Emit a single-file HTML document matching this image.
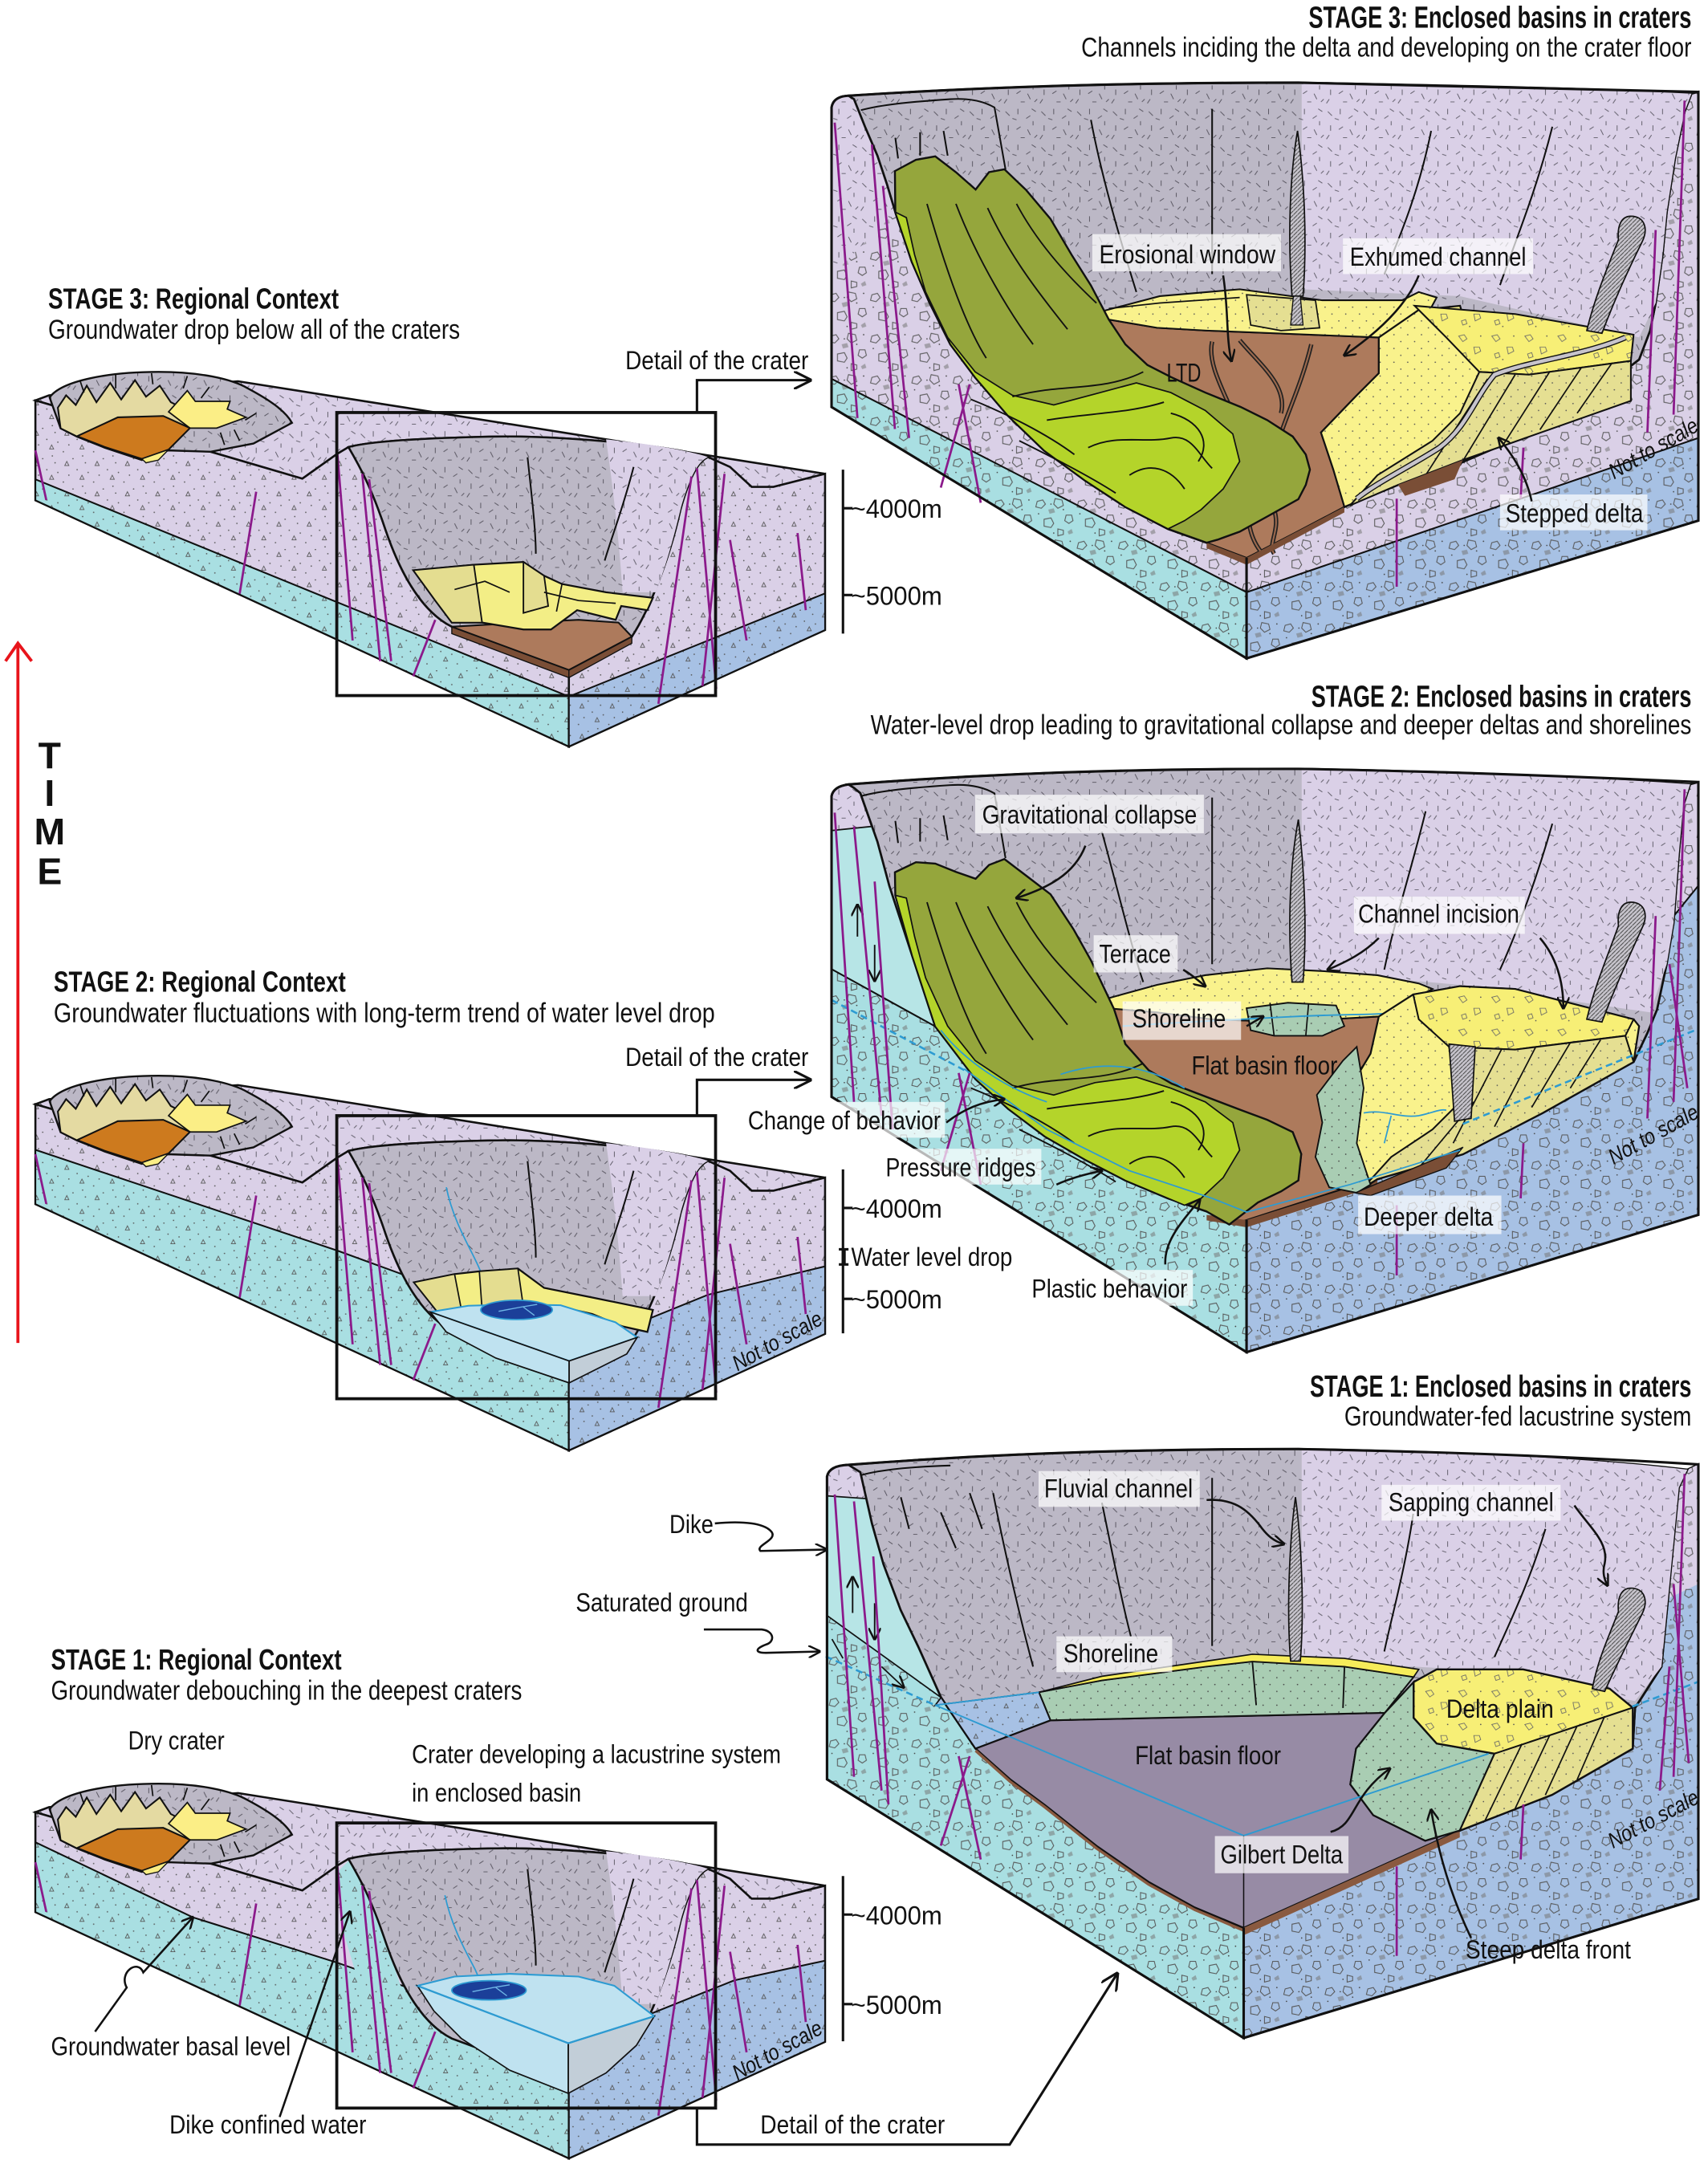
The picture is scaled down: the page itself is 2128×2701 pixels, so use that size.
<!DOCTYPE html>
<html><head><meta charset="utf-8"><title>Crater lacustrine stages</title>
<style>
html,body{margin:0;padding:0;background:#fff;width:2128px;height:2701px;overflow:hidden}
svg{display:block}
text{font-family:"Liberation Sans Narrow","Liberation Sans",sans-serif;fill:#111}
</style></head><body>
<svg xmlns="http://www.w3.org/2000/svg" width="2128" height="2701" viewBox="0 0 1240 1574" preserveAspectRatio="none">
<defs>
<pattern id="pLav" width="26" height="26" patternUnits="userSpaceOnUse"><rect width="26" height="26" fill="#dad0e7"/><path d="M2,3l3,3M11,1v4M17,8l3,-2M4,13v4M10,16l3,-2M18,16l2,4M21,1l3,2M13,22h3M1,23l2,-3M7,8l3,1M22,10v3M23,22l2,-2" stroke="#5d5a66" stroke-width="0.55"/></pattern>
<pattern id="pGray" width="26" height="26" patternUnits="userSpaceOnUse"><rect width="26" height="26" fill="#bcb8c6"/><path d="M2,3l3,3M11,1v4M17,8l3,-2M4,13v4M10,16l3,-2M18,16l2,4M21,1l3,2M13,22h3M1,23l2,-3M7,8l3,1M22,10v3M23,22l2,-2" stroke="#55525d" stroke-width="0.55"/></pattern>
<pattern id="pLavTri" width="22" height="22" patternUnits="userSpaceOnUse"><rect width="22" height="22" fill="#dad0e7"/><path d="M3,8h3l-1.5,-3z M14,18h3l-1.5,-3z" fill="none" stroke="#555" stroke-width="0.5"/><g fill="#555"><circle cx="9" cy="3" r="0.5"/><circle cx="18" cy="6" r="0.5"/><circle cx="6" cy="15" r="0.5"/><circle cx="12" cy="11" r="0.5"/><circle cx="20" cy="13" r="0.5"/><circle cx="2" cy="20" r="0.5"/><circle cx="16" cy="1" r="0.5"/></g></pattern>
<pattern id="pCyanTri" width="22" height="22" patternUnits="userSpaceOnUse"><rect width="22" height="22" fill="#a9dfe2"/><path d="M3,8h3l-1.5,-3z M14,18h3l-1.5,-3z" fill="none" stroke="#555" stroke-width="0.5"/><g fill="#555"><circle cx="9" cy="3" r="0.5"/><circle cx="18" cy="6" r="0.5"/><circle cx="6" cy="15" r="0.5"/><circle cx="12" cy="11" r="0.5"/><circle cx="20" cy="13" r="0.5"/><circle cx="2" cy="20" r="0.5"/><circle cx="16" cy="1" r="0.5"/></g></pattern>
<pattern id="pBlueTri" width="22" height="22" patternUnits="userSpaceOnUse"><rect width="22" height="22" fill="#a7c1e4"/><path d="M3,8h3l-1.5,-3z M14,18h3l-1.5,-3z" fill="none" stroke="#555" stroke-width="0.5"/><g fill="#555"><circle cx="9" cy="3" r="0.5"/><circle cx="18" cy="6" r="0.5"/><circle cx="6" cy="15" r="0.5"/><circle cx="12" cy="11" r="0.5"/><circle cx="20" cy="13" r="0.5"/><circle cx="2" cy="20" r="0.5"/><circle cx="16" cy="1" r="0.5"/></g></pattern>
<pattern id="pLavFrag" width="30" height="30" patternUnits="userSpaceOnUse"><rect width="30" height="30" fill="#dad0e7"/><path d="M3,4l4,-1l2,3l-3,3l-4,-1z M16,2l5,1l1,4l-4,2l-3,-3z M24,14l4,0l1,4l-3,2l-3,-2z M8,17l5,-1l2,4l-2,3l-5,-1z M18,24l4,1l0,3l-4,1z" fill="none" stroke="#555" stroke-width="0.6"/><path d="M11,10l4,-1l1,3l-4,1z M25,26l3,-2l1,3l-3,1z" fill="#777" opacity="0.55"/><g fill="#444"><circle cx="13" cy="6" r="0.5"/><circle cx="22" cy="10" r="0.5"/><circle cx="4" cy="13" r="0.5"/><circle cx="15" cy="27" r="0.5"/><circle cx="27" cy="3" r="0.5"/></g></pattern>
<pattern id="pCyanFrag" width="30" height="30" patternUnits="userSpaceOnUse"><rect width="30" height="30" fill="#a9dfe2"/><path d="M3,4l4,-1l2,3l-3,3l-4,-1z M16,2l5,1l1,4l-4,2l-3,-3z M24,14l4,0l1,4l-3,2l-3,-2z M8,17l5,-1l2,4l-2,3l-5,-1z M18,24l4,1l0,3l-4,1z" fill="none" stroke="#555" stroke-width="0.6"/><path d="M11,10l4,-1l1,3l-4,1z M25,26l3,-2l1,3l-3,1z" fill="#777" opacity="0.55"/><g fill="#444"><circle cx="13" cy="6" r="0.5"/><circle cx="22" cy="10" r="0.5"/><circle cx="4" cy="13" r="0.5"/><circle cx="15" cy="27" r="0.5"/><circle cx="27" cy="3" r="0.5"/></g></pattern>
<pattern id="pBlueFrag" width="30" height="30" patternUnits="userSpaceOnUse"><rect width="30" height="30" fill="#a7c1e4"/><path d="M3,4l4,-1l2,3l-3,3l-4,-1z M16,2l5,1l1,4l-4,2l-3,-3z M24,14l4,0l1,4l-3,2l-3,-2z M8,17l5,-1l2,4l-2,3l-5,-1z M18,24l4,1l0,3l-4,1z" fill="none" stroke="#555" stroke-width="0.6"/><path d="M11,10l4,-1l1,3l-4,1z M25,26l3,-2l1,3l-3,1z" fill="#777" opacity="0.55"/><g fill="#444"><circle cx="13" cy="6" r="0.5"/><circle cx="22" cy="10" r="0.5"/><circle cx="4" cy="13" r="0.5"/><circle cx="15" cy="27" r="0.5"/><circle cx="27" cy="3" r="0.5"/></g></pattern>
<pattern id="pYel" width="10" height="10" patternUnits="userSpaceOnUse"><rect width="10" height="10" fill="#f9f28c"/><circle cx="2" cy="3" r="0.5" fill="#555"/><circle cx="7" cy="8" r="0.5" fill="#555"/></pattern>
<pattern id="pKhaki" width="10" height="10" patternUnits="userSpaceOnUse"><rect width="10" height="10" fill="#e5df92"/><circle cx="2" cy="3" r="0.5" fill="#555"/><circle cx="7" cy="8" r="0.5" fill="#555"/></pattern>
<pattern id="pSage" width="10" height="10" patternUnits="userSpaceOnUse"><rect width="10" height="10" fill="#a9cdb3"/><circle cx="2" cy="3" r="0.5" fill="#444"/><circle cx="7" cy="8" r="0.5" fill="#444"/></pattern>
<pattern id="pYelFrag" width="24" height="24" patternUnits="userSpaceOnUse"><rect width="24" height="24" fill="#f7ef76"/><path d="M3,4l4,-1l2,3l-3,2z M14,12l4,0l1,3l-4,2z M5,17l3,-1l1,3l-3,1z" fill="none" stroke="#666" stroke-width="0.5"/><circle cx="19" cy="4" r="0.5" fill="#555"/><circle cx="11" cy="21" r="0.5" fill="#555"/></pattern>
<pattern id="pHatch" width="3" height="3" patternUnits="userSpaceOnUse"><rect width="3" height="3" fill="#c7c4cc"/><path d="M0,3L3,0" stroke="#444" stroke-width="0.55"/></pattern>
<marker id="a" viewBox="0 0 10 10" refX="9" refY="5" markerWidth="9" markerHeight="9" markerUnits="userSpaceOnUse" orient="auto-start-reverse"><path d="M0,0L10,5L0,10" fill="none" stroke="#111" stroke-width="1.6"/></marker>
<marker id="A" viewBox="0 0 10 10" refX="9" refY="5" markerWidth="13" markerHeight="13" markerUnits="userSpaceOnUse" orient="auto"><path d="M0,0L10,5L0,10" fill="none" stroke="#111" stroke-width="1.4"/></marker>
</defs>

<rect width="1240" height="1574" fill="#fff"/>

<!-- ============ TIME arrow ============ -->
<path d="M13,975 V468" stroke="#e8141b" stroke-width="2.2" fill="none"/>
<path d="M4,480 L13,467 L23,480" stroke="#e8141b" stroke-width="2.2" fill="none"/>
<g font-size="27" text-anchor="middle" font-weight="bold"><text x="36" y="558">T</text><text x="36" y="585">I</text><text x="36" y="613">M</text><text x="36" y="642">E</text></g>

<!-- ============ REGIONAL BLOCKS ============ -->
<!-- Stage 3 regional -->
<g>
<path d="M25.7,290.7 L35.6,287 L172.8,276.8 L599,344 L561.5,353.5 L545.7,353.5 L529.9,339 L514,331.8 C480,322 400,316 355,317 C310,318 270,320 253,324.6 L245,329.4 L219.5,347.5 Z" fill="url(#pLav)" stroke="#111" stroke-width="1.5"/>
<path d="M25.7,290.7 L219.5,347.5 L245,329.4 L253,324.6 C262,340 270,355 280,385 C292,420 308,445 328,455 L413,486.4 L413,542 L25.7,363.2 Z" fill="url(#pLavTri)" stroke="#111" stroke-width="1.5"/>
<path d="M25.7,348 L413,505.7 L413,542 L25.7,363.2 Z" fill="url(#pCyanTri)" stroke="#111" stroke-width="1.2"/>
<path d="M36,288.5 C45,276 80,270 115,270 C145,270 168,275 180,282 C195,290 207,298 212,307 L184,322 L153,328 L122,327 L103,334 L76,325 L56,317 L44,311 Z" fill="url(#pGray)" stroke="#111" stroke-width="1.4"/>
<path d="M42,296 L48,287 L55,294 L63,280 L70,292 L80,278 L88,290 L98,276 L106,288 L116,280 L124,292 L136,298 L137,311 L122,326 L103,333 L76,324 L56,317 L44,311 Z" fill="#e4daa2" stroke="#111" stroke-width="1.2"/>
<path d="M122.4,299 L136,283.6 L141.8,291.4 L167,291.4 L165,297 L178.7,303 L157.3,310.8 L137.9,310.8 Z" fill="#fbee86" stroke="#111" stroke-width="1"/>
<path d="M56,316.7 L85.5,303 L118.5,302 L137.9,310.8 L122.4,326.4 L103,333.2 L75.8,324.4 Z" fill="#cd7a1e" stroke="#111" stroke-width="1.2"/>
<path d="M103,333.2 L122.4,326.4 L115,334 L106,336 Z" fill="#fbee86" stroke="#111" stroke-width="0.8"/>
<path d="M58,276l3,9M84,272v10M110,271l1,8M136,273l-3,9M152,281l-6,8M186,300l-8,5M170,312l4,8M160,314l3,9" stroke="#111" stroke-width="1"/>
<path d="M413,486.4 L458.7,462.2 C470,445 485,410 494,370 C501,345 507,335 514,331.8 L529.9,339 L545.7,353.5 L561.5,353.5 L599,344 L599,457.4 L413,542 Z" fill="url(#pLavTri)" stroke="#111" stroke-width="1.5"/>
<path d="M413,505.7 L599,430.8 L599,457.4 L413,542 Z" fill="url(#pBlueTri)" stroke="#111" stroke-width="1.2"/>
<path d="M253,324.6 C270,320 310,318 355,317 C400,316 480,322 514,331.8 C507,335 501,345 494,370 C485,410 470,445 458.7,462.2 L413,486.4 L328,455 C308,445 292,420 280,385 C270,355 262,340 253,324.6 Z" fill="url(#pGray)" stroke="#111" stroke-width="1.5"/>
<path d="M440,319 C470,322 500,327 514,331.8 C507,335 501,345 494,370 C488,395 482,415 476,430 L452,430 C450,400 446,360 440,319 Z" fill="url(#pLav)"/>
<path d="M383,332 C386,360 389,385 389,402 M460,339 C452,370 444,390 439,407" stroke="#111" stroke-width="1.2" fill="none"/>
<path d="M328,455 L413,486.4 L413,492 L328,460 Z M413,486.4 L458.7,462.2 L458.7,467 L413,492 Z" fill="#7a4e36" stroke="#111" stroke-width="0.8"/>
<path d="M328,455 L413,486.4 L458.7,462.2 L449,452 L420,450 L380,452 Z" fill="#ad7a5c" stroke="#111" stroke-width="1.2"/>
<path d="M300,414 L344,410 L380,408 L395,418 L408,424 L440,430 L474,434 L470,443 L451,440 L447,450 L419,443 L400,457 L380,457 L350,452 L328,452 L316,436 Z" fill="#f3ee86" stroke="#111" stroke-width="1.3"/>
<path d="M300,414 L344,410 L350,452 L328,452 L316,436 Z M380,408 L395,418 L398,440 L380,445 Z" fill="#e4dd90" stroke="#111" stroke-width="1.1"/>
<path d="M330,428 L352,422 L370,430 M395,430 L420,436 L447,438 M408,424 L404,444" stroke="#111" stroke-width="1" fill="none"/>
<g stroke="#8b1a8b" stroke-width="1.6"><path d="M245,330L256,465M263,344L276,480M268,348L284,480M186,357L174,431M25.7,327L33.6,363M316,450L300,491M502,346L478,511M526,344L510,498M530,392L542,465M579,387L585,443M506,340L520,500"/></g>
</g>

<!-- Stage 2 regional -->
<g transform="translate(0,511)">
<path d="M25.7,290.7 L35.6,287 L172.8,276.8 L599,344 L561.5,353.5 L545.7,353.5 L529.9,339 L514,331.8 C480,322 400,316 355,317 C310,318 270,320 253,324.6 L245,329.4 L219.5,347.5 Z" fill="url(#pLav)" stroke="#111" stroke-width="1.5"/>
<path d="M25.7,290.7 L219.5,347.5 L245,329.4 L253,324.6 C262,340 270,355 280,385 C292,420 308,445 328,455 L413,486.4 L413,542 L25.7,363.2 Z" fill="url(#pLavTri)" stroke="#111" stroke-width="1.5"/>
<path d="M25.7,323.8 L245,397 L330,428 L413,460 L413,542 L25.7,363.2 Z" fill="url(#pCyanTri)" stroke="#111" stroke-width="1.2"/>
<path d="M36,288.5 C45,276 80,270 115,270 C145,270 168,275 180,282 C195,290 207,298 212,307 L184,322 L153,328 L122,327 L103,334 L76,325 L56,317 L44,311 Z" fill="url(#pGray)" stroke="#111" stroke-width="1.4"/>
<path d="M42,296 L48,287 L55,294 L63,280 L70,292 L80,278 L88,290 L98,276 L106,288 L116,280 L124,292 L136,298 L137,311 L122,326 L103,333 L76,324 L56,317 L44,311 Z" fill="#e4daa2" stroke="#111" stroke-width="1.2"/>
<path d="M122.4,299 L136,283.6 L141.8,291.4 L167,291.4 L165,297 L178.7,303 L157.3,310.8 L137.9,310.8 Z" fill="#fbee86" stroke="#111" stroke-width="1"/>
<path d="M56,316.7 L85.5,303 L118.5,302 L137.9,310.8 L122.4,326.4 L103,333.2 L75.8,324.4 Z" fill="#cd7a1e" stroke="#111" stroke-width="1.2"/>
<path d="M103,333.2 L122.4,326.4 L115,334 L106,336 Z" fill="#fbee86" stroke="#111" stroke-width="0.8"/>
<path d="M58,276l3,9M84,272v10M110,271l1,8M136,273l-3,9M152,281l-6,8M186,300l-8,5M170,312l4,8M160,314l3,9" stroke="#111" stroke-width="1"/>
<path d="M413,486.4 L458.7,462.2 C470,445 485,410 494,370 C501,345 507,335 514,331.8 L529.9,339 L545.7,353.5 L561.5,353.5 L599,344 L599,457.4 L413,542 Z" fill="url(#pLavTri)" stroke="#111" stroke-width="1.5"/>
<path d="M413,470 L514,429 L599,408.4 L599,457.4 L413,542 Z" fill="url(#pBlueTri)" stroke="#111" stroke-width="1.2"/>
<path d="M253,324.6 C270,320 310,318 355,317 C400,316 480,322 514,331.8 C507,335 501,345 494,370 C485,410 470,445 458.7,462.2 L413,486.4 L328,455 C308,445 292,420 280,385 C270,355 262,340 253,324.6 Z" fill="url(#pGray)" stroke="#111" stroke-width="1.5"/>
<path d="M440,319 C470,322 500,327 514,331.8 C507,335 501,345 494,370 C488,395 482,415 476,430 L452,430 C450,400 446,360 440,319 Z" fill="url(#pLav)"/>
<path d="M383,332 C386,360 389,385 389,402 M460,339 C452,370 444,390 439,407" stroke="#111" stroke-width="1.2" fill="none"/>
<path d="M324,351 C330,380 345,400 350,415 C355,425 360,432 364,437" stroke="#2d9bd2" stroke-width="1" fill="none"/>
<path d="M300.5,420 L330,414 L348,412 L376,410 L395,424 L430,431 L474,440 L470,456 L452,452 L430,443 L404,437 L395,443 L375,446 L350,440 L318,442 Z" fill="#f3ee86" stroke="#111" stroke-width="1.3"/>
<path d="M300.5,420 L330,414 L335,440 L318,442 Z M348,412 L376,410 L380,438 L350,440 Z" fill="#e4dd90" stroke="#111" stroke-width="1"/>
<path d="M312.4,441.5 L340,437 L375,436 L407,436.6 L446.8,449 L462.6,460 L413.2,477.1 Z" fill="#bfe2f0" stroke="#2d9bd2" stroke-width="1.2"/>
<path d="M312.4,441.5 L413.2,477.1 L413.2,493 L360,475 L324,456 Z" fill="#bfe2f0" stroke="#111" stroke-width="1"/>
<path d="M413.2,477.1 L462.6,460 L455,472 L413.2,493 Z" fill="#c2ced8" stroke="#111" stroke-width="1"/>
<ellipse cx="375" cy="440" rx="26" ry="7" fill="#1b3f99" stroke="#2d9bd2" stroke-width="1"/>
<path d="M362,441 L378,438 L390,436 M380,438 L388,444" stroke="#6fb6e6" stroke-width="0.8" fill="none"/>
<g stroke="#8b1a8b" stroke-width="1.6"><path d="M245,330L256,465M263,344L276,480M268,348L284,480M186,357L174,431M25.7,327L33.6,363M316,450L300,491M502,346L478,511M526,344L510,498M530,392L542,465M579,387L585,443M506,340L520,500"/></g>
</g>

<!-- Stage 1 regional -->
<g transform="translate(0,1025)">
<path d="M25.7,290.7 L35.6,287 L172.8,276.8 L599,344 L561.5,353.5 L545.7,353.5 L529.9,339 L514,331.8 C480,322 400,316 355,317 C310,318 270,320 253,324.6 L245,329.4 L219.5,347.5 Z" fill="url(#pLav)" stroke="#111" stroke-width="1.5"/>
<path d="M25.7,290.7 L219.5,347.5 L245,329.4 L253,324.6 C262,340 270,355 280,385 C292,420 308,445 328,455 L413,486.4 L413,542 L25.7,363.2 Z" fill="url(#pLavTri)" stroke="#111" stroke-width="1.5"/>
<path d="M25.7,312.5 L140,367 L245,400 L330,430 L413,460 L413,542 L25.7,363.2 Z" fill="url(#pCyanTri)" stroke="#111" stroke-width="1.2"/>
<path d="M246,333 L253,326 L262,340 L270,355 L280,385 L292,420 L308,445 L300,452 L262,420 L250,380 Z" fill="url(#pCyanTri)"/>
<path d="M36,288.5 C45,276 80,270 115,270 C145,270 168,275 180,282 C195,290 207,298 212,307 L184,322 L153,328 L122,327 L103,334 L76,325 L56,317 L44,311 Z" fill="url(#pGray)" stroke="#111" stroke-width="1.4"/>
<path d="M42,296 L48,287 L55,294 L63,280 L70,292 L80,278 L88,290 L98,276 L106,288 L116,280 L124,292 L136,298 L137,311 L122,326 L103,333 L76,324 L56,317 L44,311 Z" fill="#e4daa2" stroke="#111" stroke-width="1.2"/>
<path d="M122.4,299 L136,283.6 L141.8,291.4 L167,291.4 L165,297 L178.7,303 L157.3,310.8 L137.9,310.8 Z" fill="#fbee86" stroke="#111" stroke-width="1"/>
<path d="M56,316.7 L85.5,303 L118.5,302 L137.9,310.8 L122.4,326.4 L103,333.2 L75.8,324.4 Z" fill="#cd7a1e" stroke="#111" stroke-width="1.2"/>
<path d="M103,333.2 L122.4,326.4 L115,334 L106,336 Z" fill="#fbee86" stroke="#111" stroke-width="0.8"/>
<path d="M58,276l3,9M84,272v10M110,271l1,8M136,273l-3,9M152,281l-6,8M186,300l-8,5M170,312l4,8M160,314l3,9" stroke="#111" stroke-width="1"/>
<path d="M413,486.4 L458.7,462.2 C470,445 485,410 494,370 C501,345 507,335 514,331.8 L529.9,339 L545.7,353.5 L561.5,353.5 L599,344 L599,457.4 L413,542 Z" fill="url(#pLavTri)" stroke="#111" stroke-width="1.5"/>
<path d="M413,470 L470,438 L533,412.8 L599,398.5 L599,457.4 L413,542 Z" fill="url(#pBlueTri)" stroke="#111" stroke-width="1.2"/>
<path d="M253,324.6 C270,320 310,318 355,317 C400,316 480,322 514,331.8 C507,335 501,345 494,370 C485,410 470,445 458.7,462.2 L413,486.4 L328,455 C308,445 292,420 280,385 C270,355 262,340 253,324.6 Z" fill="url(#pGray)" stroke="#111" stroke-width="1.5"/>
<path d="M440,319 C470,322 500,327 514,331.8 C507,335 501,345 494,370 C488,395 482,415 476,430 L452,430 C450,400 446,360 440,319 Z" fill="url(#pLav)"/>
<path d="M383,332 C386,360 389,385 389,402 M460,339 C452,370 444,390 439,407" stroke="#111" stroke-width="1.2" fill="none"/>
<path d="M323,351 C328,375 340,395 345,405 C348,412 350,416 352,419" stroke="#2d9bd2" stroke-width="1" fill="none"/>
<path d="M303,416.7 L330,410 L370,408 L420,410 L446,416.7 L475,438.8 L412.6,458.4 Z" fill="#bfe2f0" stroke="#2d9bd2" stroke-width="1.2"/>
<path d="M303,416.7 L412.6,458.4 L412.6,494.8 L370,478 L335,455 L315,435 Z" fill="#bfe2f0" stroke="#111" stroke-width="1"/>
<path d="M412.6,458.4 L475,438.8 L462,460 L440,480 L412.6,494.8 Z" fill="#c2ced8" stroke="#111" stroke-width="1"/>
<path d="M303,416.7 L412.6,458.4 L475,438.8" stroke="#2d9bd2" stroke-width="1.3" fill="none"/>
<ellipse cx="355" cy="420" rx="27" ry="7" fill="#1b3f99" stroke="#2d9bd2" stroke-width="1"/>
<path d="M343,421 L358,418 L370,416 M360,418 L368,424" stroke="#6fb6e6" stroke-width="0.8" fill="none"/>
<g stroke="#8b1a8b" stroke-width="1.6"><path d="M245,330L256,465M263,344L276,480M268,348L284,480M186,357L174,431M25.7,327L33.6,363M316,450L300,491M502,346L478,511M526,344L510,498M530,392L542,465M579,387L585,443M506,340L520,500"/></g>
</g>

<!-- selection rects & connectors -->
<g fill="none" stroke="#111" stroke-width="2.2">
<rect x="244.5" y="299.5" width="275" height="205.5"/>
<rect x="244.5" y="810" width="275" height="205.5"/>
<rect x="244.5" y="1323.5" width="275" height="207"/>
<path d="M506,299.5 V276 H588" marker-end="url(#A)" stroke-width="1.8"/>
<path d="M506,810 V784 H588" marker-end="url(#A)" stroke-width="1.8"/>
<path d="M506,1530.5 V1557 H733 L811,1433" marker-end="url(#A)" stroke-width="1.8"/>
</g>

<!-- scale bars -->
<g stroke="#111" stroke-width="1.8" fill="none">
<path d="M612,341 V460 M612,369 H619 M612,432 H619"/>
<path d="M612,849 V968 M612,877 H619 M612,943 H619 M609,907 H616 M609,918 H616"/>
<path d="M612.5,907 V918" stroke-width="3"/>
<path d="M612,1362 V1482 M612,1390 H619 M612,1455 H619"/>
</g>

<!-- ============ DETAIL BLOCK STAGE 3 ============ -->
<g>
<path d="M603.7,295.5 L603.7,78 Q605,70 616,69.5 L620,72 L628,92 L637,113 L644,134 L650,154 L662,190 L675,220 L690,250 L708,274 L732,302 L758,327 L788,349 L817,368 L848,384 L876,394 L905,405 L905,478 Z" fill="url(#pLavFrag)" stroke="#111" stroke-width="1.6"/>
<path d="M603.7,78 Q605,70 616,69.5 L620,72 L628,92 L637,113 L644,134 L650,154 L603.7,200 Z" fill="url(#pLav)"/>
<path d="M603.7,275 L905,430 L905,478 L603.7,295.5 Z" fill="url(#pCyanFrag)" stroke="#111" stroke-width="1.2"/>
<path d="M905,405 L940,387 L976,368 L1015,352 L1056,338 L1100,319 L1150,292 L1190,261 L1198,240 L1202,220 L1207,185 L1210,154 L1216,115 L1223,81 L1228,68 L1233,66.7 L1233,378 L905,478 Z" fill="url(#pLavFrag)" stroke="#111" stroke-width="1.6"/>
<path d="M905,430 L1233,318 L1233,378 L905,478 Z" fill="url(#pBlueFrag)" stroke="#111" stroke-width="1.2"/>
<path d="M616,69.5 C700,64 800,60 942.6,60 C1050,62 1150,64 1228,68 L1223,81 L1216,115 L1210,154 L1207,185 L1202,220 L1198,240 L1190,261 L1150,292 L1100,319 L1056,338 L1015,352 L976,368 L940,387 L905,405 L876,394 L848,384 L817,368 L788,349 L758,327 L732,302 L708,274 L690,250 L675,220 L662,190 L650,154 L644,134 L637,113 L628,92 L620,72 Z" fill="url(#pGray)" stroke="#111" stroke-width="1.6"/>
<path d="M945,61 C1050,62 1150,64 1228,68 L1223,81 L1216,115 L1210,154 L1207,185 L1202,220 L1190,245 L1060,215 L945,210 Z" fill="url(#pLav)"/>
<path d="M792,87 C800,130 815,180 825,212 M880,79 V199 M1039,95 C1030,140 1015,175 1005,199 M1127,92 C1115,140 1100,175 1089,207 M650,100 l2,15 M668,96 v17 M685,95 l3,18" stroke="#111" stroke-width="1.2" fill="none"/>
<path d="M625,80 C640,76 660,74 690,72 C705,71 715,74 722,78 L730,123" stroke="#111" stroke-width="1.2" fill="none"/>
<path d="M805,232 L840,238 L876,240 L926,242 L1001,245 L1001,271 L985,287 L959,314 L968,341 L990,362 L976,368 L940,387 L905,405 L876,394 L884,391.8 L900,386 L920,375 L942.6,362.4 L948,352 L951,341 L948,330 L938.5,316.9 L920,305 L900.8,295.5 L875,285 L850.6,274 L833,265 L817,250 Z" fill="#ad7a5c" stroke="#111" stroke-width="1.2"/>
<path d="M880,248 C875,270 900,300 905,330 C910,360 900,380 915,400 M900,247 C915,265 935,280 930,300 M952,250 C940,300 915,330 925,370 C930,385 920,395 925,402" stroke="#222" stroke-width="3.2" fill="none"/>
<path d="M880,248 C875,270 900,300 905,330 C910,360 900,380 915,400 M900,247 C915,265 935,280 930,300 M952,250 C940,300 915,330 925,370 C930,385 920,395 925,402" stroke="#9d6a4e" stroke-width="1.2" fill="none"/>
<path d="M876,394 L905,405 L976,368 L976,372 L905,410 L876,398 Z" fill="#7a4e36"/>
<path d="M800,226 L842,215 L900,210 L960,218 L1018,218 L1030,212 L1043,216 L1030,240 L1001,245 L926,242 L876,240 L840,238 L805,232 Z" fill="url(#pYel)" stroke="#111" stroke-width="1.2"/>
<path d="M905,214 L955,218 L958,238 L930,240 L908,236 Z" fill="url(#pKhaki)" stroke="#111" stroke-width="1"/>
<path d="M805,224 L842,220 L900,216" stroke="#111" stroke-width="1" fill="none"/>
<path d="M1001,245 L1030,225 L1060,222 L1074,270 L1062,334 L1015,352 L976,368 L968,341 L959,314 L985,287 L1001,271 Z" fill="url(#pYel)" stroke="#111" stroke-width="1.3"/>
<path d="M1027,222 L1100,228 L1186,243 L1184,262 L1110,272 L1074,270 L1050,245 Z" fill="url(#pYelFrag)" stroke="#111" stroke-width="1.2"/>
<path d="M1074,270 L1110,272 L1184,262 L1184,291 L1062,334 L1015,352 L980,367 L1000,345 L1040,320 L1060,300 Z" fill="url(#pKhaki)" stroke="#111" stroke-width="1.2"/>
<path d="M1100,272 L1060,338 M1125,270 L1090,325 M1148,267 L1118,312 M1170,264 L1145,300 M1080,275 L1035,345" stroke="#111" stroke-width="1" fill="none"/>
<path d="M1180,245 C1150,258 1110,262 1085,272 C1070,290 1065,310 1045,325 C1025,338 1000,350 985,362" stroke="#111" stroke-width="4.2" fill="none"/>
<path d="M1180,245 C1150,258 1110,262 1085,272 C1070,290 1065,310 1045,325 C1025,338 1000,350 985,362" stroke="#c7c4cc" stroke-width="2.6" fill="none"/>
<path d="M1015,352 L1062,334 L1056,348 L1020,360 Z" fill="#7a4e36"/>
<path d="M649.7,124.2 L665,116 L679,113.5 L694,125 L708.3,137.6 L718,125 L729.2,122.9 L745,138 L762.7,159 L778,185 L792,207.2 L805,232 L817,250 L833,265 L850.6,274 L875,285 L900.8,295.5 L920,305 L938.5,316.9 L948,330 L951,341 L948,352 L942.6,362.4 L920,375 L900,386 L884,391.8 L876,394 L848,384 L817,368 L788,349 L758,327 L732,302 L708,274 L690,250 L675,220 L662,190 L650,154 Z" fill="#95a63c" stroke="#111" stroke-width="1.4"/>
<path d="M650,154 L658,158 L664,185 L672,212 L688,245 L708,270 L735,287 L765,294 L795,286 L825,278 L850,285 L875,298 L895,315 L900,335 L888,355 L872,370 L860,378 L848,384 L817,368 L788,349 L758,327 L732,302 L708,274 L690,250 L675,220 L662,190 Z" fill="#b4d42a" stroke="#111" stroke-width="1"/>
<path d="M673,148 C685,190 700,235 716,260 M694,148 C710,190 735,230 750,250 M717,151 C735,190 760,220 775,239 M738,148 C755,180 780,205 796,220 M735,288 C770,278 800,285 830,270 M760,305 C790,300 820,300 845,292 M790,325 C810,315 830,322 850,318 C865,315 870,330 880,340 M820,345 C835,335 850,340 860,355 M850,300 C870,305 880,320 870,335 M705,290 C730,300 760,315 780,330 M740,320 C760,330 790,345 810,358" stroke="#111" stroke-width="1.1" fill="none"/>
<path d="M942,95 C947,130 949,175 946,215 L938,215 C935,175 936,130 942,95 Z" fill="url(#pHatch)" stroke="#111" stroke-width="1"/>
<path d="M939,215 L944,215 L946,236 L937,236 Z" fill="url(#pHatch)" stroke="#111" stroke-width="0.8"/>
<path d="M1184,157 C1194,157 1197,166 1192,176 C1182,196 1172,218 1163,242 L1152,240 C1158,215 1168,192 1175,174 C1174,164 1177,157 1184,157 Z" fill="url(#pHatch)" stroke="#111" stroke-width="1"/>
<g stroke="#8b1a8b" stroke-width="1.6"><path d="M606,89L622.5,303.5M633,105L649.7,311.5M641,135L660,318M704,279L683,354M696,279L712,365M1014,362L1014,426M1106,325L1104,362M1202,167L1196,314M1223,73L1215,301"/></g>
<path d="M603.7,295.5 L603.7,78 Q605,70 616,69.5 C700,64 800,60 942.6,60 C1050,62 1150,64 1233,66.7 L1233,378 L905,478 Z M905,405 V478" fill="none" stroke="#111" stroke-width="1.8"/>
</g>

<!-- ============ DETAIL BLOCK STAGE 2 ============ -->
<g>
<path d="M603.7,796.3 L603.7,578 Q605,571 616,569.5 L620,572 L624.6,575.8 L637,611 L645.6,643 L662.3,694 L679,745.2 L708.3,783.5 L732,805 L758.5,825 L788,842 L817,857 L848,870 L875.7,879.4 L905,885.8 L905,981.7 Z" fill="url(#pLav)" stroke="#111" stroke-width="1.6"/>
<path d="M603.7,603 L633,600 L637,611 L645.6,643 L662.3,694 L679,745.2 L603.7,703.6 Z" fill="#b7e5e6" stroke="#111" stroke-width="1"/>
<path d="M603.7,703.6 L679,745.2 L708.3,783.5 L732,805 L758.5,825 L788,842 L817,857 L848,870 L875.7,879.4 L905,885.8 L905,981.7 L603.7,796.3 Z" fill="url(#pCyanFrag)" stroke="#111" stroke-width="1.2"/>
<path d="M905,885.8 L960,868 L1000,856 L1062,838 L1120,808 L1186,771 L1196,750 L1203,733 L1210,700 L1215,670 L1218.8,620 L1222,585 L1227,569.4 L1233,567.8 L1233,882 L905,981.7 Z" fill="url(#pLavFrag)" stroke="#111" stroke-width="1.6"/>
<path d="M905,885.8 L1195,690 L1233,643 L1233,882 L905,981.7 Z" fill="url(#pBlueFrag)" stroke="#111" stroke-width="1.2"/>
<path d="M616,569.5 C700,563 800,558 942.6,558.2 C1050,560 1150,564 1227,569.4 L1222,585 L1218.8,620 L1215,670 L1210,700 L1203,733 L1196,750 L1186,771 L1120,808 L1062,838 L1000,856 L960,868 L905,885.8 L875.7,879.4 L848,870 L817,857 L788,842 L758.5,825 L732,805 L708.3,783.5 L679,745.2 L662.3,694 L645.6,643 L637,611 L624.6,575.8 L620,572 Z" fill="url(#pGray)" stroke="#111" stroke-width="1.6"/>
<path d="M945,559 C1050,560 1150,564 1227,569.4 L1222,585 L1218.8,620 L1215,670 L1210,700 L1198,735 L1060,715 L945,705 Z" fill="url(#pLav)"/>
<path d="M800,604 C810,640 822,690 830,713 M880,579 V700 M1035,589 C1025,630 1012,670 1005,704 M1127,598 C1115,640 1100,680 1089,704 M650,596 l2,16 M668,594 v17 M685,592 l3,18" stroke="#111" stroke-width="1.2" fill="none"/>
<path d="M625,578 C640,574 660,572 690,570 C705,569 715,572 722,576 L730,623" stroke="#111" stroke-width="1.2" fill="none"/>
<path d="M808.7,732.4 L840,735 L880,740 L930,742 L965,740 L1001,738 L1000,760 L985,780 L970,800 L962,820 L965,850 L985,860 L960,868 L905,885.8 L892.4,889 L913.3,873 L942.6,857 L944.7,837.8 L938.5,821.9 L900.8,805.9 L850.6,786.7 L833.9,777 L817,758 Z" fill="#ad7a5c" stroke="#111" stroke-width="1.2"/>
<path d="M876,882 L905,885.8 L1000,856 L1000,861 L905,891 L876,886 Z" fill="#7a4e36"/>
<path d="M800,726 L840,715 L875,708 L920,703 L960,705 L1000,708 L1030,714 L1040,718 L1001,738 L965,740 L930,742 L880,740 L840,735 L808.7,732.4 Z" fill="url(#pYel)" stroke="#111" stroke-width="1.2"/>
<path d="M905,732 L935,728 L970,730 L976,745 L960,752 L925,752 L908,748 Z" fill="url(#pSage)" stroke="#111" stroke-width="1.1"/>
<path d="M922,728 L925,752 M950,729 L948,752" stroke="#111" stroke-width="1"/>
<path d="M815,745 C860,742 900,740 940,738 C980,736 1000,737 1018,735" stroke="#2d9bd2" stroke-width="1.1" fill="none"/>
<!-- delta D2 -->
<path d="M1001,738 L1026,722 L1060,716 L1100,718 L1186,740 L1190,745 L1186,771 L1120,808 L1062,838 L1000,856 L985,866 L975,850 L970,820 L980,790 L995,765 Z" fill="url(#pYel)" stroke="#111" stroke-width="1.3"/>
<path d="M1026,722 L1060,716 L1100,718 L1186,740 L1180,752 L1100,762 L1052,760 L1030,740 Z" fill="url(#pYelFrag)" stroke="#111" stroke-width="1.2"/>
<path d="M1052,760 L1100,762 L1180,752 L1186,771 L1120,808 L1062,838 L1000,856 L990,862 L1010,840 L1040,820 L1060,800 L1055,780 Z" fill="url(#pKhaki)" stroke="#111" stroke-width="1.2"/>
<path d="M1090,762 L1055,830 M1115,760 L1085,818 M1140,757 L1112,804 M1162,755 L1140,790 M1070,800 L1030,848" stroke="#111" stroke-width="1" fill="none"/>
<path d="M1052,758 L1071,760 L1068,812 L1056,814 Z" fill="url(#pHatch)" stroke="#111" stroke-width="1"/>
<path d="M1062,816 L1233,747" stroke="#2d9bd2" stroke-width="1.5" stroke-dasharray="5 3" fill="none"/>
<path d="M956,795 L975,770 L985,760 L990,790 L985,830 L995,860 L985,866 L965,862 L955,840 L960,815 Z" fill="url(#pSage)" stroke="#111" stroke-width="1.1"/>
<path d="M984,866 L1062,833 L1050,848 L995,868 Z" fill="#7a4e36" stroke="#111" stroke-width="0.8"/>
<path d="M990,808 C1005,805 1015,812 1030,810 C1040,808 1045,805 1050,806 M1010,810 L1005,830" stroke="#2d9bd2" stroke-width="1" fill="none"/>
<!-- green D2 -->
<path d="M649.7,633.3 L665,626 L679,627 L694,633 L708.3,638 L718,628 L729.2,623.7 L746,636.5 L762.7,649.3 L779.5,674.9 L792,697.2 L808.7,732.4 L817,758 L833.9,777 L850.6,786.7 L875,796 L900.8,805.9 L920,813 L938.5,821.9 L944.7,837.8 L942.6,857 L930,865 L913.3,873 L892.4,889 L875.7,879.4 L848,870 L817,857 L788,842 L758.5,825 L732,805 L708.3,783.5 L679,745.2 L662.3,694 L650,650 Z" fill="#95a63c" stroke="#111" stroke-width="1.4"/>
<path d="M650,650 L658,652 L664,680 L672,710 L688,745 L708,770 L735,788 L765,795 L795,786 L825,782 L850,790 L875,800 L895,815 L900,835 L888,855 L872,870 L860,875 L848,870 L817,857 L788,842 L758.5,825 L732,805 L708.3,783.5 L679,745.2 L662.3,694 Z" fill="#b4d42a" stroke="#111" stroke-width="1"/>
<path d="M673,655 C685,695 700,740 716,765 M694,655 C710,695 735,735 750,755 M717,658 C735,695 760,725 775,744 M738,655 C755,690 780,712 796,728 M735,790 C770,780 800,787 830,772 M760,805 C790,800 820,800 845,792 M790,825 C810,815 830,822 850,818 C865,815 870,830 880,840 M820,845 C835,835 850,840 860,855 M850,800 C870,805 880,820 870,835 M705,790 C730,800 760,815 780,830 M740,820 C760,830 790,845 810,858" stroke="#111" stroke-width="1.1" fill="none"/>
<path d="M683,748 C700,770 730,790 760,800 M770,780 C800,770 830,772 860,790" stroke="#2d9bd2" stroke-width="1" fill="none"/>
<path d="M700,776 L760,820 L820,850 L880,870 L905,880 L980,860 L1060,835" stroke="#2d9bd2" stroke-width="1" fill="none"/>
<path d="M942.6,595 C947,630 949,675 946,713 L938,713 C935,675 936,630 942.6,595 Z" fill="url(#pHatch)" stroke="#111" stroke-width="1"/>
<path d="M1184,655 C1194,655 1197,664 1192,674 C1182,696 1172,718 1163,742 L1152,740 C1158,715 1168,692 1175,672 C1174,662 1177,655 1184,655 Z" fill="url(#pHatch)" stroke="#111" stroke-width="1"/>
<path d="M603.7,726 L704,779" stroke="#2d9bd2" stroke-width="1.5" stroke-dasharray="5 3" fill="none"/>
<path d="M622.5,657 V680 M635,686 V712" stroke="#111" stroke-width="1.1" marker-start="url(#a)" marker-end="url(#a)"/>
<g stroke="#8b1a8b" stroke-width="1.6"><path d="M606,590L620,800M620,600L640,810M635,640L648,820M704,779L683,850M696,779L712,860M1014,875L1014,926M1106,830L1104,870M1202,665L1196,812M1223,573L1215,800M1212,700L1225,790"/></g>
<path d="M603.7,796.3 L603.7,578 Q605,571 616,569.5 C700,563 800,558 942.6,558.2 C1050,560 1150,564 1233,567.8 L1233,882 L905,981.7 Z M905,885.8 V981.7" fill="none" stroke="#111" stroke-width="1.8"/>
</g>

<!-- ============ DETAIL BLOCK STAGE 1 ============ -->
<g>
<path d="M600.4,1291.8 L600.4,1072 Q602,1064 616,1063.5 L620,1066 L624.6,1068.8 L633,1106 L641.4,1135.7 L653.9,1169 L666.5,1195.2 L683.2,1232.4 L708.3,1269.5 L733.4,1291.8 L758.5,1310.4 L796.2,1340.2 L833.8,1366.2 L867.3,1384.8 L902.9,1399.6 L902.9,1479.6 Z" fill="url(#pCyanFrag)" stroke="#111" stroke-width="1.6"/>
<path d="M600.4,1072 Q602,1064 616,1063.5 L620,1066 L624.6,1068.8 L629,1088 L600.4,1086 Z" fill="url(#pLav)"/>
<path d="M600.4,1086 L629,1088 L633,1106 L641.4,1135.7 L653.9,1169 L666.5,1195.2 L683.2,1232.4 L600.4,1172.9 Z" fill="#b7e5e6" stroke="#111" stroke-width="1"/>
<path d="M902.9,1399.6 L980,1365 L1059.8,1329 L1126.7,1303 L1185.3,1269.5 L1187,1240 L1206.2,1210 L1212,1150 L1218.8,1080 L1225,1067 L1233,1063.2 L1233,1378.6 L902.9,1479.6 Z" fill="url(#pBlueFrag)" stroke="#111" stroke-width="1.6"/>
<path d="M1218.8,1080 L1225,1067 L1233,1063.2 L1233,1150 L1212,1160 Z" fill="url(#pLavFrag)"/>
<path d="M616,1063.5 C700,1057 800,1052 942.6,1052 C1050,1054 1150,1058 1225,1067 L1218.8,1080 L1212,1150 L1206.2,1210 L1187,1240 L1185.3,1269.5 L1126.7,1303 L1059.8,1329 L980,1365 L902.9,1399.6 L867.3,1384.8 L833.8,1366.2 L796.2,1340.2 L758.5,1310.4 L733.4,1291.8 L708.3,1269.5 L683.2,1232.4 L666.5,1195.2 L653.9,1169 L641.4,1135.7 L633,1106 L624.6,1068.8 L620,1066 Z" fill="url(#pGray)" stroke="#111" stroke-width="1.6"/>
<path d="M945,1053 C1050,1054 1150,1058 1225,1067 L1218.8,1080 L1212,1150 L1206.2,1210 L1187,1235 L1060,1212 L945,1205 Z" fill="url(#pLav)"/>
<path d="M800,1091 C808,1130 815,1165 821,1188 M880,1073 V1195 M721,1084 C730,1130 742,1180 750,1210 M1026,1099 C1020,1140 1010,1175 1005,1199 M1122,1110 C1110,1150 1095,1180 1085,1203 M654,1087 l6,23 M683,1098 l11,26 M704,1084 l9,26" stroke="#111" stroke-width="1.2" fill="none"/>
<path d="M625,1071 C640,1067 660,1065 690,1064" stroke="#111" stroke-width="1.2" fill="none"/>
<path d="M679,1238 L754.3,1228.6 L762.7,1249 L708.3,1269.5 L683.2,1232.4 Z" fill="url(#pBlueTri)" stroke="#111" stroke-width="1"/>
<path d="M708.3,1269.5 L762.7,1249 L1005.4,1243.5 L984.5,1269.5 L980.3,1295.5 L997,1317.9 L1034.7,1336.4 L1059.8,1329 L902.9,1399.6 L867.3,1384.8 L833.8,1366.2 L796.2,1340.2 L758.5,1310.4 L733.4,1291.8 Z" fill="#978ba5" stroke="#111" stroke-width="1.3"/>
<path d="M902.9,1399.6 L1059.8,1329 L1059.8,1334 L902.9,1405 Z" fill="#8a5a40"/>
<path d="M708.3,1271 L733.4,1293.5 L758.5,1312 L796.2,1342 L833.8,1368 L867.3,1386.5 L902.9,1401.5" stroke="#8a5a40" stroke-width="2" fill="none"/>
<path d="M754.3,1228.6 L800,1220 L875.7,1210 L909.2,1206.3 L940,1208 L976.1,1210 L1026.3,1217.5 L1005.4,1243.5 L762.7,1249 Z" fill="url(#pSage)" stroke="#111" stroke-width="1.2"/>
<path d="M754.3,1228.6 L800,1217 L875.7,1206 L909.2,1201 L976,1204 L1030,1212 L1026.3,1217.5 L976.1,1210 L940,1208 L909.2,1206.3 L875.7,1210 L800,1220 Z" fill="#f6ec5a" stroke="#111" stroke-width="1"/>
<path d="M909.2,1206.3 L912,1238 M976.1,1210 L975,1240" stroke="#111" stroke-width="1.1"/>
<path d="M1026.3,1221.2 L1026.3,1247.2 L1043,1265.8 L1085,1273.2 L1059.8,1329 L1034.7,1336.4 L997,1317.9 L980.3,1295.5 L984.5,1269.5 L1005.4,1243.5 Z" fill="url(#pSage)" stroke="#111" stroke-width="1.3"/>
<path d="M1026.3,1221.2 L1043,1212 L1105.8,1212 L1168.6,1226 L1185.3,1239.8 L1160,1254.7 L1126.7,1262 L1085,1273.2 L1043,1265.8 L1026.3,1247.2 Z" fill="url(#pYelFrag)" stroke="#111" stroke-width="1.4"/>
<path d="M1085,1273.2 L1185.3,1239.8 L1185.3,1269.5 L1126.7,1303 L1059.8,1329 Z" fill="url(#pKhaki)" stroke="#111" stroke-width="1.2"/>
<path d="M1105,1266 L1078,1322 M1125,1260 L1100,1313 M1145,1253 L1122,1303 M1165,1246 L1145,1292" stroke="#111" stroke-width="1" fill="none"/>
<path d="M679,1238 L902.9,1332.7 L1080.7,1273.2 M679,1238 L754.3,1228.6" stroke="#2d9bd2" stroke-width="1.1" fill="none"/>
<path d="M902.9,1332.7 V1399.6" stroke="#111" stroke-width="0.9"/>
<path d="M599.5,1202.6 L679,1238 M1185,1239 L1233,1221" stroke="#2d9bd2" stroke-width="1.5" stroke-dasharray="5 3" fill="none"/>
<path d="M940.5,1087 C945,1120 947,1170 944,1206 L937,1206 C934,1170 936,1120 940.5,1087 Z" fill="url(#pHatch)" stroke="#111" stroke-width="1"/>
<path d="M1184,1153 C1194,1153 1197,1162 1192,1172 C1182,1192 1172,1212 1165,1228 L1156,1226 C1160,1205 1168,1188 1175,1170 C1174,1160 1177,1153 1184,1153 Z" fill="url(#pHatch)" stroke="#111" stroke-width="1"/>
<path d="M619,1145 V1171 M635,1164 V1190" stroke="#111" stroke-width="1.1" marker-start="url(#a)" marker-end="url(#a)"/>
<path d="M604,1190 L612,1204 M640,1210 L656,1225" stroke="#111" stroke-width="1" marker-end="url(#a)"/>
<g stroke="#8b1a8b" stroke-width="1.6"><path d="M606,1085L620,1290M620,1090L640,1300M634,1130L645,1310M704,1275L683,1340M696,1275L712,1350M1014,1355L1014,1420M1106,1310L1104,1350M1212,1210L1205,1300M1223,1070L1215,1290M1215,1150L1226,1280"/></g>
<path d="M600.4,1291.8 L600.4,1072 Q602,1064 616,1063.5 C700,1057 800,1052 942.6,1052 C1050,1054 1150,1058 1233,1063.2 L1233,1378.6 L902.9,1479.6 Z M902.9,1399.6 V1479.6" fill="none" stroke="#111" stroke-width="1.8"/>
</g>

<!-- ============ LABEL BOXES ============ -->
<g fill="#fff" fill-opacity="0.7">
<rect x="793" y="170" width="137" height="27"/>
<rect x="975" y="173" width="138" height="26"/>
<rect x="1089" y="359" width="107" height="26"/>
<rect x="708" y="577" width="166" height="28"/>
<rect x="794" y="679" width="61" height="27"/>
<rect x="983" y="651" width="124" height="27"/>
<rect x="815" y="727" width="86" height="28"/>
<rect x="540" y="800" width="146" height="26"/>
<rect x="640" y="834" width="116" height="26"/>
<rect x="745" y="922" width="121" height="26"/>
<rect x="986" y="868" width="104" height="28"/>
<rect x="754" y="1068" width="117" height="26"/>
<rect x="1003" y="1078" width="130" height="26"/>
<rect x="767" y="1188" width="84" height="26"/>
<rect x="882" y="1333" width="97" height="27"/>
</g>

<!-- ============ LABEL ARROWS ============ -->
<g fill="none" stroke="#111" stroke-width="1.5" marker-end="url(#a)">
<path d="M888,200 C892,225 890,245 894,262"/>
<path d="M1030,200 C1020,225 995,245 976,258"/>
<path d="M1112,364 C1108,345 1098,330 1088,318"/>
<path d="M788,614 C780,635 760,645 738,652"/>
<path d="M859,704 C866,708 870,712 875,716"/>
<path d="M1001,681 C990,692 978,698 964,704"/>
<path d="M1118,681 C1130,695 1135,712 1135,732"/>
<path d="M905,745 L917,738"/>
<path d="M687,815 C700,805 712,800 729,798"/>
<path d="M767,860 C778,855 790,852 800,850"/>
<path d="M846,918 C845,900 860,885 871,871"/>
<path d="M876,1089 C895,1088 905,1095 915,1108 C920,1115 925,1119 932,1121"/>
<path d="M1143,1093 C1155,1110 1168,1120 1165,1135 C1163,1142 1165,1147 1167,1151"/>
<path d="M966,1330 C985,1325 980,1305 1009,1284"/>
<path d="M1068,1407 C1055,1380 1045,1350 1039,1314"/>
<path d="M519,1106 C540,1104 555,1106 560,1112 C565,1118 548,1122 552,1126 L600,1125"/>
<path d="M511,1183 L553,1183 C562,1184 563,1192 556,1194 C548,1197 548,1200 556,1200 L595,1199"/>
<path d="M69,1475 L92,1443 C86,1432 100,1422 104,1432 L140,1392"/>
<path d="M203,1537 L254,1388"/>
</g>

<!-- ============ TEXT ============ -->
<g font-weight="bold" font-size="22">
<text x="950" y="20" textLength="278" lengthAdjust="spacingAndGlyphs">STAGE 3: Enclosed basins in craters</text>
<text x="952" y="513" textLength="276" lengthAdjust="spacingAndGlyphs">STAGE 2: Enclosed basins in craters</text>
<text x="951" y="1014" textLength="277" lengthAdjust="spacingAndGlyphs">STAGE 1: Enclosed basins in craters</text>
</g>
<g font-weight="bold" font-size="21">
<text x="35" y="224" textLength="211" lengthAdjust="spacingAndGlyphs">STAGE 3: Regional Context</text>
<text x="39" y="720" textLength="212" lengthAdjust="spacingAndGlyphs">STAGE 2: Regional Context</text>
<text x="37" y="1212" textLength="211" lengthAdjust="spacingAndGlyphs">STAGE 1: Regional Context</text>
</g>
<g font-size="20">
<text x="785" y="41" textLength="443" lengthAdjust="spacingAndGlyphs">Channels inciding the delta and developing on the crater floor</text>
<text x="35" y="246" textLength="299" lengthAdjust="spacingAndGlyphs">Groundwater drop below all of the craters</text>
<text x="632" y="533" textLength="596" lengthAdjust="spacingAndGlyphs">Water-level drop leading to gravitational collapse and deeper deltas and shorelines</text>
<text x="39" y="742" textLength="480" lengthAdjust="spacingAndGlyphs">Groundwater fluctuations with long-term trend of water level drop</text>
<text x="976" y="1035" textLength="252" lengthAdjust="spacingAndGlyphs">Groundwater-fed lacustrine system</text>
<text x="37" y="1234" textLength="342" lengthAdjust="spacingAndGlyphs">Groundwater debouching in the deepest craters</text>
</g>
<g font-size="19">
<text x="454" y="268" textLength="133" lengthAdjust="spacingAndGlyphs">Detail of the crater</text>
<text x="618" y="376" textLength="66" lengthAdjust="spacingAndGlyphs">~4000m</text>
<text x="618" y="439" textLength="66" lengthAdjust="spacingAndGlyphs">~5000m</text>
<text x="798" y="191" textLength="128" lengthAdjust="spacingAndGlyphs">Erosional window</text>
<text x="980" y="193" textLength="128" lengthAdjust="spacingAndGlyphs">Exhumed channel</text>
<text x="847" y="277" textLength="25" lengthAdjust="spacingAndGlyphs">LTD</text>
<text x="1093" y="379" textLength="100" lengthAdjust="spacingAndGlyphs">Stepped delta</text>
<text x="454" y="774" textLength="133" lengthAdjust="spacingAndGlyphs">Detail of the crater</text>
<text x="713" y="598" textLength="156" lengthAdjust="spacingAndGlyphs">Gravitational collapse</text>
<text x="798" y="699" textLength="52" lengthAdjust="spacingAndGlyphs">Terrace</text>
<text x="986" y="670" textLength="117" lengthAdjust="spacingAndGlyphs">Channel incision</text>
<text x="822" y="746" textLength="68" lengthAdjust="spacingAndGlyphs">Shoreline</text>
<text x="865" y="780" textLength="106" lengthAdjust="spacingAndGlyphs">Flat basin floor</text>
<text x="543" y="820" textLength="140" lengthAdjust="spacingAndGlyphs">Change of behavior</text>
<text x="643" y="854" textLength="109" lengthAdjust="spacingAndGlyphs">Pressure ridges</text>
<text x="618" y="884" textLength="66" lengthAdjust="spacingAndGlyphs">~4000m</text>
<text x="618" y="919" textLength="117" lengthAdjust="spacingAndGlyphs">Water level drop</text>
<text x="618" y="950" textLength="66" lengthAdjust="spacingAndGlyphs">~5000m</text>
<text x="749" y="942" textLength="113" lengthAdjust="spacingAndGlyphs">Plastic behavior</text>
<text x="990" y="890" textLength="94" lengthAdjust="spacingAndGlyphs">Deeper delta</text>
<text x="486" y="1113" textLength="32" lengthAdjust="spacingAndGlyphs">Dike</text>
<text x="418" y="1170" textLength="125" lengthAdjust="spacingAndGlyphs">Saturated ground</text>
<text x="758" y="1087" textLength="108" lengthAdjust="spacingAndGlyphs">Fluvial channel</text>
<text x="1008" y="1097" textLength="120" lengthAdjust="spacingAndGlyphs">Sapping channel</text>
<text x="772" y="1207" textLength="69" lengthAdjust="spacingAndGlyphs">Shoreline</text>
<text x="1050" y="1247" textLength="78" lengthAdjust="spacingAndGlyphs">Delta plain</text>
<text x="824" y="1281" textLength="106" lengthAdjust="spacingAndGlyphs">Flat basin floor</text>
<text x="886" y="1353" textLength="89" lengthAdjust="spacingAndGlyphs">Gilbert Delta</text>
<text x="1064" y="1422" textLength="120" lengthAdjust="spacingAndGlyphs">Steep delta front</text>
<text x="93" y="1270" textLength="70" lengthAdjust="spacingAndGlyphs">Dry crater</text>
<text x="299" y="1280" textLength="268" lengthAdjust="spacingAndGlyphs">Crater developing a lacustrine system</text>
<text x="299" y="1308" textLength="123" lengthAdjust="spacingAndGlyphs">in enclosed basin</text>
<text x="618" y="1397" textLength="66" lengthAdjust="spacingAndGlyphs">~4000m</text>
<text x="618" y="1462" textLength="66" lengthAdjust="spacingAndGlyphs">~5000m</text>
<text x="37" y="1492" textLength="174" lengthAdjust="spacingAndGlyphs">Groundwater basal level</text>
<text x="123" y="1549" textLength="143" lengthAdjust="spacingAndGlyphs">Dike confined water</text>
<text x="552" y="1549" textLength="134" lengthAdjust="spacingAndGlyphs">Detail of the crater</text>
</g>
<g font-size="16" font-style="italic" text-anchor="middle">
<text x="1200" y="331" transform="rotate(-30 1200 325)" textLength="72" lengthAdjust="spacingAndGlyphs">Not to scale</text>
<text x="1200" y="829" transform="rotate(-29 1200 823)" textLength="72" lengthAdjust="spacingAndGlyphs">Not to scale</text>
<text x="1200" y="1326" textLength="72" transform="rotate(-28 1200 1320)" lengthAdjust="spacingAndGlyphs">Not to scale</text>
<text x="564" y="979" transform="rotate(-29 564 973)" textLength="72" lengthAdjust="spacingAndGlyphs">Not to scale</text>
<text x="564" y="1494" transform="rotate(-29 564 1488)" textLength="72" lengthAdjust="spacingAndGlyphs">Not to scale</text>
</g>
</svg>
</body></html>
